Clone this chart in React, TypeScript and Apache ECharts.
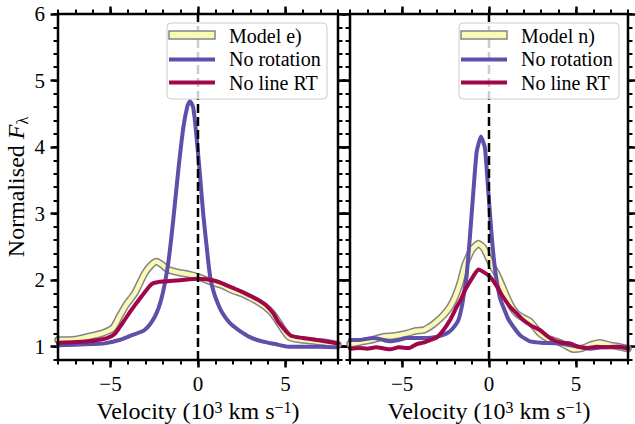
import { useEffect, useRef } from 'react';
import * as echarts from 'echarts';

// ---- axis extents and tick values ----
const X_MIN = -8;
const X_MAX = 8;
const Y_MIN = 0.8;
const Y_MAX = 6;
const xMajorTicks = [-5, 0, 5];
const xMinorTicks = [-8, -7, -6, -5, -4, -3, -2, -1, 0, 1, 2, 3, 4, 5, 6, 7, 8];
const yMajorTicks = [1, 2, 3, 4, 5, 6];
const yMinorTicks = [0.8, 1, 1.2, 1.4, 1.6, 1.8, 2, 2.2, 2.4, 2.6, 2.8, 3, 3.2, 3.4, 3.6, 3.8, 4, 4.2, 4.4, 4.6, 4.8, 5, 5.2, 5.4, 5.6, 5.8, 6];

// ---- panel 1: Model e) ----
const modelEVel = [-8, -7, -6.3, -5.5, -4.87, -4.5, -4.1, -3.62, -3.05, -2.7, -2.37, -2.0, -1.72, -1.2, -0.57, 0, 0.79, 1.4, 1.94, 2.5, 2.89, 3.4, 3.85, 4.25, 4.62, 5.19, 5.7, 6.72, 7.4, 8];
const modelEFlux = [1.10, 1.11, 1.15, 1.2, 1.28, 1.45, 1.63, 1.8, 2.1, 2.22, 2.28, 2.22, 2.16, 2.12, 2.09, 2.05, 1.97, 1.92, 1.85, 1.8, 1.75, 1.68, 1.6, 1.5, 1.36, 1.15, 1.11, 1.08, 1.06, 1.03];

const noRotEVel = [-8, -7, -6, -5.34, -4.5, -3.81, -3.05, -2.47, -2.09, -1.71, -1.42, -1.13, -0.84, -0.6, -0.46, -0.27, -0.08, 0.11, 0.3, 0.5, 0.69, 0.9, 1.1, 1.36, 1.8, 2.32, 3.0, 3.66, 4.4, 5.19, 6, 7, 8];
const noRotEFlux = [1.02, 1.03, 1.04, 1.05, 1.1, 1.17, 1.25, 1.45, 1.72, 2.24, 2.89, 3.64, 4.29, 4.62, 4.69, 4.59, 4.14, 3.59, 2.99, 2.49, 2.06, 1.82, 1.67, 1.52, 1.36, 1.25, 1.14, 1.08, 1.04, 1.0, 1.0, 1.0, 0.99];

const noRtEVel = [-8, -7, -6, -5.2, -4.77, -4.3, -3.81, -3.24, -2.66, -2.3, -1.9, -1, 0, 0.96, 1.74, 2.2, 2.7, 3.3, 3.85, 4.3, 4.62, 5.28, 6, 6.8, 7.5, 8];
const noRtEFlux = [1.06, 1.07, 1.09, 1.13, 1.19, 1.36, 1.55, 1.75, 1.94, 1.97, 1.98, 2.0, 2.02, 1.99, 1.91, 1.86, 1.8, 1.72, 1.63, 1.5, 1.36, 1.17, 1.13, 1.1, 1.07, 1.045];

// ---- panel 2: Model n) ----
const modelNVel = [-8, -7.4, -6.8, -6.07, -5.5, -4.73, -4.2, -3.77, -3.4, -3.0, -2.6, -2.24, -1.95, -1.67, -1.38, -1.0, -0.61, -0.3, 0.15, 0.44, 0.73, 1.02, 1.3, 1.59, 2.0, 2.36, 2.93, 3.4, 3.89, 4.4, 4.85, 5.4, 5.9, 6.38, 7.0, 7.5, 8];
const modelNFlux = [1.04, 1.07, 1.1, 1.15, 1.16, 1.2, 1.24, 1.25, 1.3, 1.38, 1.48, 1.6, 1.75, 1.95, 2.23, 2.45, 2.55, 2.48, 2.23, 2.1, 1.93, 1.75, 1.6, 1.5, 1.43, 1.38, 1.2, 1.12, 1.08, 1.02, 0.96, 0.98, 1.03, 1.06, 1.02, 1.0, 0.97];

const noRotNVel = [-8, -7.5, -7, -6.65, -6.2, -5.69, -5.2, -4.73, -4.2, -3.58, -3.0, -2.43, -2.1, -1.76, -1.55, -1.38, -1.28, -1.09, -0.9, -0.71, -0.46, -0.23, -0.04, 0.15, 0.34, 0.63, 0.82, 1.1, 1.4, 1.8, 2.36, 3.0, 3.89, 4.5, 5.2, 5.8, 6.5, 7.2, 7.7, 8];
const noRotNFlux = [1.1, 1.1, 1.12, 1.13, 1.11, 1.08, 1.1, 1.13, 1.13, 1.13, 1.15, 1.2, 1.27, 1.4, 1.62, 1.9, 2.08, 2.68, 3.33, 3.93, 4.16, 3.98, 3.33, 2.68, 2.18, 1.73, 1.6, 1.42, 1.3, 1.17, 1.08, 1.06, 1.05, 1.03, 1.0, 0.97, 0.99, 1.0, 1.0, 0.98];

const noRtNVel = [-8, -7.5, -7, -6.5, -6, -5.69, -5.2, -4.6, -4.16, -3.8, -3.39, -3.0, -2.62, -2.24, -1.86, -1.6, -1.38, -1.0, -0.61, -0.3, 0.06, 0.4, 0.73, 1.21, 1.6, 1.97, 2.4, 2.93, 3.3, 3.7, 4.2, 4.66, 5.1, 5.6, 6.2, 6.8, 7.4, 8];
const noRtNFlux = [0.97, 0.98, 0.97, 0.99, 0.97, 0.96, 0.99, 0.98, 1.04, 1.06, 1.1, 1.14, 1.25, 1.4, 1.6, 1.72, 1.85, 2.02, 2.16, 2.12, 2.05, 1.93, 1.78, 1.6, 1.5, 1.4, 1.32, 1.25, 1.17, 1.1, 1.06, 1.05, 1.0, 0.98, 1.0, 0.99, 1.0, 0.97];

const legendLabels = [
  ['Model e)', 'No rotation', 'No line RT'],
  ['Model n)', 'No rotation', 'No line RT'],
];

const FONT = 'Liberation Serif';
const YELLOW = '#fbf9b6';
const GREY = '#858585';
const BLUE = '#5e4fa8';
const CRIMSON = '#a0064a';

const pairs = (xs: number[], ys: number[]) => xs.map((x, i) => [x, ys[i]]);
const fmtMinus = (v: number) => (v < 0 ? '\u2212' + Math.abs(v) : String(v));

function App() {
  const ref = useRef<HTMLDivElement>(null);

  useEffect(() => {
    if (!ref.current) return;
    const chart = echarts.init(ref.current, undefined, { renderer: 'svg' });

    const grids = [
      { left: 58, top: 14, width: 280, height: 346 },
      { left: 350, top: 14, width: 278, height: 346 },
    ];

    const xAxes: any[] = [];
    const yAxes: any[] = [];
    const tickStyle = (w: number) => ({ color: '#000', width: w });
    const hiddenLine = { show: false, onZero: false };

    grids.forEach((_, g) => {
      (['bottom', 'top'] as const).forEach((pos) => {
        // minor ticks
        xAxes.push({
          type: 'value', gridIndex: g, position: pos, min: X_MIN, max: X_MAX,
          axisLine: hiddenLine, splitLine: { show: false },
          axisTick: { show: true, inside: false, length: 4.5, customValues: xMinorTicks, lineStyle: tickStyle(2) },
          axisLabel: { show: false },
        });
        // major ticks (+ labels on the bottom)
        const isBottom = pos === 'bottom';
        xAxes.push({
          type: 'value', gridIndex: g, position: pos, min: X_MIN, max: X_MAX,
          axisLine: hiddenLine, splitLine: { show: false },
          axisTick: { show: true, inside: false, length: 7.5, customValues: xMajorTicks, lineStyle: tickStyle(2.5) },
          axisLabel: isBottom
            ? { show: true, customValues: xMajorTicks, formatter: (v: number) => fmtMinus(v), margin: 13, fontSize: 21, color: '#000', fontFamily: FONT }
            : { show: false },
          name: isBottom ? '{t|Velocity (10}{sup|3}{t| km s}{sup|\u22121}{t|)}' : '',
          nameLocation: 'middle',
          nameGap: 27,
          nameTextStyle: {
            rich: {
              t: { fontSize: 24, fontFamily: FONT, color: '#000', lineHeight: 22 },
              sup: { fontSize: 16, fontFamily: FONT, color: '#000', lineHeight: 10, verticalAlign: 'top' },
            },
          },
        });
      });
      (['left', 'right'] as const).forEach((pos) => {
        yAxes.push({
          type: 'value', gridIndex: g, position: pos, min: Y_MIN, max: Y_MAX,
          axisLine: hiddenLine, splitLine: { show: false },
          axisTick: { show: true, inside: false, length: 4.5, customValues: yMinorTicks, lineStyle: tickStyle(2) },
          axisLabel: { show: false },
        });
        const withLabels = g === 0 && pos === 'left';
        yAxes.push({
          type: 'value', gridIndex: g, position: pos, min: Y_MIN, max: Y_MAX,
          axisLine: hiddenLine, splitLine: { show: false },
          axisTick: { show: true, inside: false, length: 7.5, customValues: yMajorTicks, lineStyle: tickStyle(2.5) },
          axisLabel: withLabels
            ? { show: true, customValues: yMajorTicks, margin: 13, fontSize: 21, color: '#000', fontFamily: FONT }
            : { show: false },
          name: withLabels ? '{n|Normalised }{f|F}{s|\u03bb}' : '',
          nameLocation: 'middle',
          nameRotate: 90,
          nameGap: 28,
          nameTextStyle: {
            rich: {
              n: { fontSize: 24, fontFamily: FONT, color: '#000', lineHeight: 28 },
              f: { fontSize: 24, fontFamily: FONT, fontStyle: 'italic', color: '#000', lineHeight: 28 },
              s: { fontSize: 16, fontFamily: FONT, color: '#000', lineHeight: 16, verticalAlign: 'bottom' },
            },
          },
        });
      });
    });

    // curves are plotted against the first axis of each side in each grid
    const xi = (g: number) => g * 4;
    const yi = (g: number) => g * 4;
    const line = (g: number, data: number[][], color: string, width: number, z: number) => ({
      type: 'line', xAxisIndex: xi(g), yAxisIndex: yi(g), data, showSymbol: false, symbol: 'none',
      smooth: g === 0 ? 0.25 : 0.15, clip: true, z,
      lineStyle: { color, width, cap: 'round', join: 'round' },
      emphasis: { disabled: true },
    });

    const panels = [
      { model: pairs(modelEVel, modelEFlux), rot: pairs(noRotEVel, noRotEFlux), rt: pairs(noRtEVel, noRtEFlux) },
      { model: pairs(modelNVel, modelNFlux), rot: pairs(noRotNVel, noRotNFlux), rt: pairs(noRtNVel, noRtNFlux) },
    ];

    const series: any[] = [];
    panels.forEach((p, g) => {
      series.push(line(g, p.model, GREY, 7.5, 2));
      series.push(line(g, p.model, YELLOW, 4.5, 3));
      series.push(line(g, p.rot, BLUE, 4, 4));
      series.push(line(g, p.rt, CRIMSON, 4, 5));
      // zero-velocity reference
      series.push({
        type: 'line', xAxisIndex: xi(g), yAxisIndex: yi(g), data: [[0, Y_MIN], [0, Y_MAX]],
        showSymbol: false, symbol: 'none', z: 6, clip: false,
        lineStyle: { color: '#000', width: 2.5, type: [9, 4] },
        emphasis: { disabled: true },
      });
    });

    // legend boxes
    const legendAt = [
      { x: 167, y: 23 },
      { x: 459, y: 23 },
    ];
    const graphic: any[] = [];
    legendAt.forEach((pos, g) => {
      graphic.push(
        { type: 'rect', x: pos.x, y: pos.y, z: 100, shape: { x: 0, y: 0, width: 160, height: 76, r: 4 }, style: { fill: 'rgba(255,255,255,0.8)', stroke: '#cccccc', lineWidth: 1 } },
        { type: 'rect', x: pos.x, y: pos.y, z: 101, shape: { x: 2, y: 8, width: 46, height: 8 }, style: { fill: YELLOW, stroke: GREY, lineWidth: 1.5 } },
        { type: 'line', x: pos.x, y: pos.y, z: 101, shape: { x1: 2, y1: 36.5, x2: 48, y2: 36.5 }, style: { stroke: BLUE, lineWidth: 4 } },
        { type: 'line', x: pos.x, y: pos.y, z: 101, shape: { x1: 2, y1: 59.5, x2: 48, y2: 59.5 }, style: { stroke: CRIMSON, lineWidth: 4 } },
      );
      legendLabels[g].forEach((label, i) => {
        graphic.push({
          type: 'text', x: pos.x + 62, y: pos.y + 12.5 + i * 23.5, z: 101,
          style: { text: label, fill: '#000', fontSize: 20, fontFamily: FONT, verticalAlign: 'middle' },
        });
      });
    });

    chart.setOption({
      animation: false,
      backgroundColor: '#fff',
      textStyle: { fontFamily: FONT },
      grid: grids.map((gr) => ({
        ...gr, show: true, borderColor: '#000', borderWidth: 2.5, backgroundColor: 'transparent', z: 10,
        containLabel: false, outerBoundsMode: 'none',
      })),
      xAxis: xAxes,
      yAxis: yAxes,
      series,
      graphic,
    });

    return () => chart.dispose();
  }, []);

  return <div ref={ref} style={{ position: 'fixed', left: 0, top: 0, width: 635, height: 424 }} />;
}

export default App;
